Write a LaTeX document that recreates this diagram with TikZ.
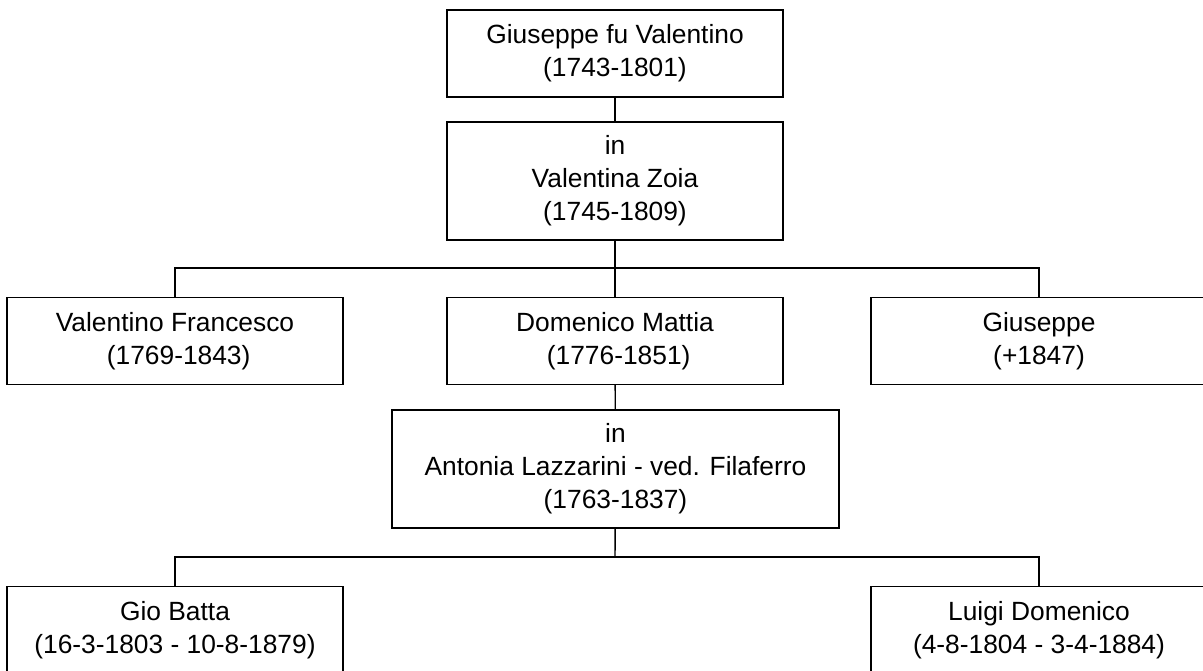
\documentclass[tikz,border=0pt]{standalone}
\usepackage{fontspec}
\setmainfont{Liberation Sans}
\begin{document}
\begin{tikzpicture}[x=0.02cm,y=-0.02cm,line width=0.8pt]
\tikzstyle{persona}=[draw,rectangle,align=center,inner sep=0pt,outer sep=0pt,
	minimum width=6.72cm,minimum height=1.74cm,font=\fontsize{15}{18.8}\selectfont]
\tikzstyle{coniuge}=[persona,minimum height=2.36cm]
\clip (0,0) rectangle (1203,670);
\node[persona] (giuseppe) at (615,53.5) {Giuseppe fu Valentino\\(1743-1801)};
\node[coniuge] (valentina) at (615,181) {in\\Valentina Zoia\\(1745-1809)};
\node[persona] (valentino) at (175,341) {Valentino Francesco\\\ (1769-1843)};
\node[persona] (domenico) at (615,341) {Domenico Mattia\\\ (1776-1851)};
\node[persona] (giuseppejr) at (1039,341) {Giuseppe\\(+1847)};
\node[coniuge,minimum width=8.94cm] (antonia) at (615.5,469) {in\\Antonia Lazzarini - ved. Filaferro\\(1763-1837)};
\node[persona] (giobatta) at (175,630) {Gio Batta\\(16-3-1803 - 10-8-1879)};
\node[persona] (luigi) at (1039,630) {Luigi Domenico\\(4-8-1804 - 3-4-1884)};
\coordinate (figli1) at (615,268);
\coordinate (figli2) at (615,557);
% primo matrimonio
\draw (giuseppe) -- (valentina);
\draw (valentina) -- (figli1);
\draw (valentino.north) |- (figli1) -| (giuseppejr.north);
\draw (figli1) -- (domenico);
% secondo matrimonio
\draw (domenico) -- (antonia);
\draw (antonia) -- (figli2);
\draw (giobatta.north) |- (figli2) -| (luigi.north);
\end{tikzpicture}
\end{document}
